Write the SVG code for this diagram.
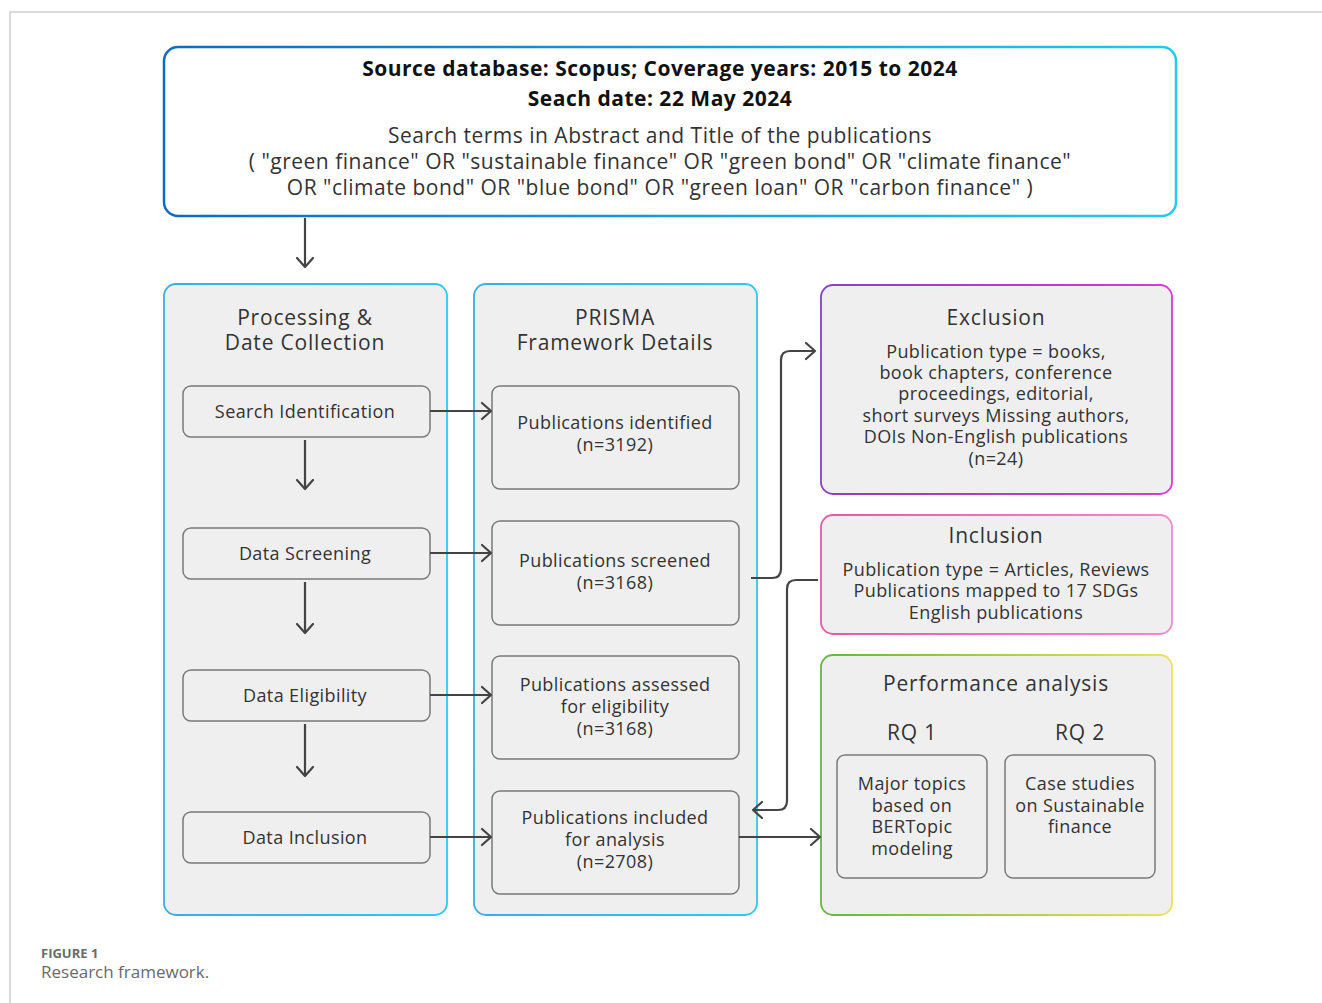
<svg xmlns="http://www.w3.org/2000/svg" width="1322" height="1003" viewBox="0 0 1322 1003">
<defs>
<linearGradient id="gTop" x1="0" y1="0" x2="1" y2="0"><stop offset="0" stop-color="#0b6cc2"/><stop offset="1" stop-color="#25c8f0"/></linearGradient>
<linearGradient id="gCol" x1="0" y1="0" x2="1" y2="0"><stop offset="0" stop-color="#3aaee0"/><stop offset="1" stop-color="#30c8ec"/></linearGradient>
<linearGradient id="gExc" x1="0" y1="0" x2="1" y2="0"><stop offset="0" stop-color="#8a3fc8"/><stop offset="1" stop-color="#d83ad2"/></linearGradient>
<linearGradient id="gInc" x1="0" y1="0" x2="1" y2="0"><stop offset="0" stop-color="#e55aa8"/><stop offset="1" stop-color="#f08ad0"/></linearGradient>
<linearGradient id="gPerf" x1="0" y1="0" x2="1" y2="0"><stop offset="0" stop-color="#62b843"/><stop offset="1" stop-color="#ece35a"/></linearGradient>
<marker id="arr" markerUnits="userSpaceOnUse" markerWidth="16" markerHeight="20" refX="11" refY="10" orient="auto">
<path d="M2,2 L11,10 L2,18" fill="none" stroke="#444" stroke-width="2.2" stroke-linecap="round" stroke-linejoin="round"/>
</marker>
<style>
.t{font-family:"Open Sans","Noto Sans",sans-serif;fill:#333;text-anchor:middle}
.top{font-size:21px;letter-spacing:0.5px}
.topb{font-size:21px;font-weight:700;letter-spacing:0.5px;fill:#111}
.hd{font-size:21px;font-weight:500;letter-spacing:0.8px}
.bx{font-size:18px;letter-spacing:0.4px}
.inner{fill:#efefef;stroke:#7a7a7a;stroke-width:1.5}
.panel{fill:#efefef;stroke-width:1.8}
.c{fill:none;stroke:#444;stroke-width:2.2;marker-end:url(#arr)}
</style>
</defs>
<rect width="1322" height="1003" fill="#fff"/>
<path d="M10,1003 V12 H1322" fill="none" stroke="#cfcfcf" stroke-width="1.5"/>

<g id="source">
<rect x="164" y="47" width="1012" height="169" rx="14" fill="#fff" stroke="url(#gTop)" stroke-width="2.5"/>
<text class="t topb" x="660" y="76">Source database: Scopus; Coverage years: 2015 to 2024</text>
<text class="t topb" x="660" y="106">Seach date: 22 May 2024</text>
<text class="t top" x="660" y="143">Search terms in Abstract and Title of the publications</text>
<text class="t top" x="660" y="169">( "green finance" OR "sustainable finance" OR "green bond" OR "climate finance"</text>
<text class="t top" x="660" y="195">OR "climate bond" OR "blue bond" OR "green loan" OR "carbon finance" )</text>
</g>

<g id="col-processing">
<rect class="panel" x="164" y="284" width="283" height="631" rx="12" stroke="url(#gCol)"/>
<text class="t hd" x="305" y="325">Processing &amp;</text>
<text class="t hd" x="305" y="350">Date Collection</text>
</g>
<g id="col-prisma">
<rect class="panel" x="474" y="284" width="283" height="631" rx="12" stroke="url(#gCol)"/>
<text class="t hd" x="615" y="325">PRISMA</text>
<text class="t hd" x="615" y="350">Framework Details</text>
</g>

<g id="search-identification"><rect class="inner" x="183" y="386" width="247" height="51" rx="8"/><text class="t bx" x="305" y="418">Search Identification</text></g>
<g id="data-screening"><rect class="inner" x="183" y="528" width="247" height="51" rx="8"/><text class="t bx" x="305" y="560">Data Screening</text></g>
<g id="data-eligibility"><rect class="inner" x="183" y="670" width="247" height="51" rx="8"/><text class="t bx" x="305" y="702">Data Eligibility</text></g>
<g id="data-inclusion"><rect class="inner" x="183" y="812" width="247" height="51" rx="8"/><text class="t bx" x="305" y="844">Data Inclusion</text></g>

<g id="pub-identified"><rect class="inner" x="492" y="386" width="247" height="103" rx="8"/><text class="t bx" x="615" y="429">Publications identified</text><text class="t bx" x="615" y="451">(n=3192)</text></g>
<g id="pub-screened"><rect class="inner" x="492" y="521" width="247" height="104" rx="8"/><text class="t bx" x="615" y="567">Publications screened</text><text class="t bx" x="615" y="589">(n=3168)</text></g>
<g id="pub-assessed"><rect class="inner" x="492" y="656" width="247" height="103" rx="8"/><text class="t bx" x="615" y="691">Publications assessed</text><text class="t bx" x="615" y="713">for eligibility</text><text class="t bx" x="615" y="735">(n=3168)</text></g>
<g id="pub-included"><rect class="inner" x="492" y="791" width="247" height="103" rx="8"/><text class="t bx" x="615" y="824">Publications included</text><text class="t bx" x="615" y="846">for analysis</text><text class="t bx" x="615" y="868">(n=2708)</text></g>

<g id="exclusion">
<rect class="panel" x="821" y="285" width="351" height="209" rx="12" stroke="url(#gExc)"/>
<text class="t hd" x="996" y="325">Exclusion</text>
<text class="t bx" x="996" y="358">Publication type = books,</text>
<text class="t bx" x="996" y="379">book chapters, conference</text>
<text class="t bx" x="996" y="400">proceedings, editorial,</text>
<text class="t bx" x="996" y="422">short surveys Missing authors,</text>
<text class="t bx" x="996" y="443">DOIs Non-English publications</text>
<text class="t bx" x="996" y="465">(n=24)</text>
</g>
<g id="inclusion">
<rect class="panel" x="821" y="515" width="351" height="119" rx="12" stroke="url(#gInc)"/>
<text class="t hd" x="996" y="543">Inclusion</text>
<text class="t bx" x="996" y="576">Publication type = Articles, Reviews</text>
<text class="t bx" x="996" y="597">Publications mapped to 17 SDGs</text>
<text class="t bx" x="996" y="619">English publications</text>
</g>
<g id="performance">
<rect class="panel" x="821" y="655" width="351" height="260" rx="12" stroke="url(#gPerf)"/>
<text class="t hd" x="996" y="691">Performance analysis</text>
<text class="t hd" x="912" y="740">RQ 1</text>
<text class="t hd" x="1080" y="740">RQ 2</text>
</g>
<g id="rq1"><rect class="inner" x="837" y="755" width="150" height="123" rx="8"/>
<text class="t bx" x="912" y="790">Major topics</text><text class="t bx" x="912" y="812">based on</text><text class="t bx" x="912" y="833">BERTopic</text><text class="t bx" x="912" y="855">modeling</text></g>
<g id="rq2"><rect class="inner" x="1005" y="755" width="150" height="123" rx="8"/>
<text class="t bx" x="1080" y="790">Case studies</text><text class="t bx" x="1080" y="812">on Sustainable</text><text class="t bx" x="1080" y="833">finance</text></g>

<g id="connectors">
<path class="c" d="M305,218 V267"/>
<path class="c" d="M305,440 V489"/>
<path class="c" d="M305,582 V633"/>
<path class="c" d="M305,724 V776"/>
<path class="c" d="M430,411 H491"/>
<path class="c" d="M430,553 H491"/>
<path class="c" d="M430,695 H491"/>
<path class="c" d="M430,837 H491"/>
<path class="c" d="M751,578 H772 Q781,578 781,569 V360 Q781,351 790,351 H815"/>
<path class="c" d="M818,580 H796 Q787,580 787,589 V801 Q787,810 778,810 H753"/>
<path class="c" d="M739,837 H820"/>
</g>

<g id="caption">
<text x="41" y="958" font-family="'Open Sans',sans-serif" font-size="13" font-weight="700" fill="#6a6a6a">FIGURE 1</text>
<text x="41" y="978" font-family="'Open Sans',sans-serif" font-size="17" fill="#6a6a6a">Research framework.</text>
</g>
</svg>
